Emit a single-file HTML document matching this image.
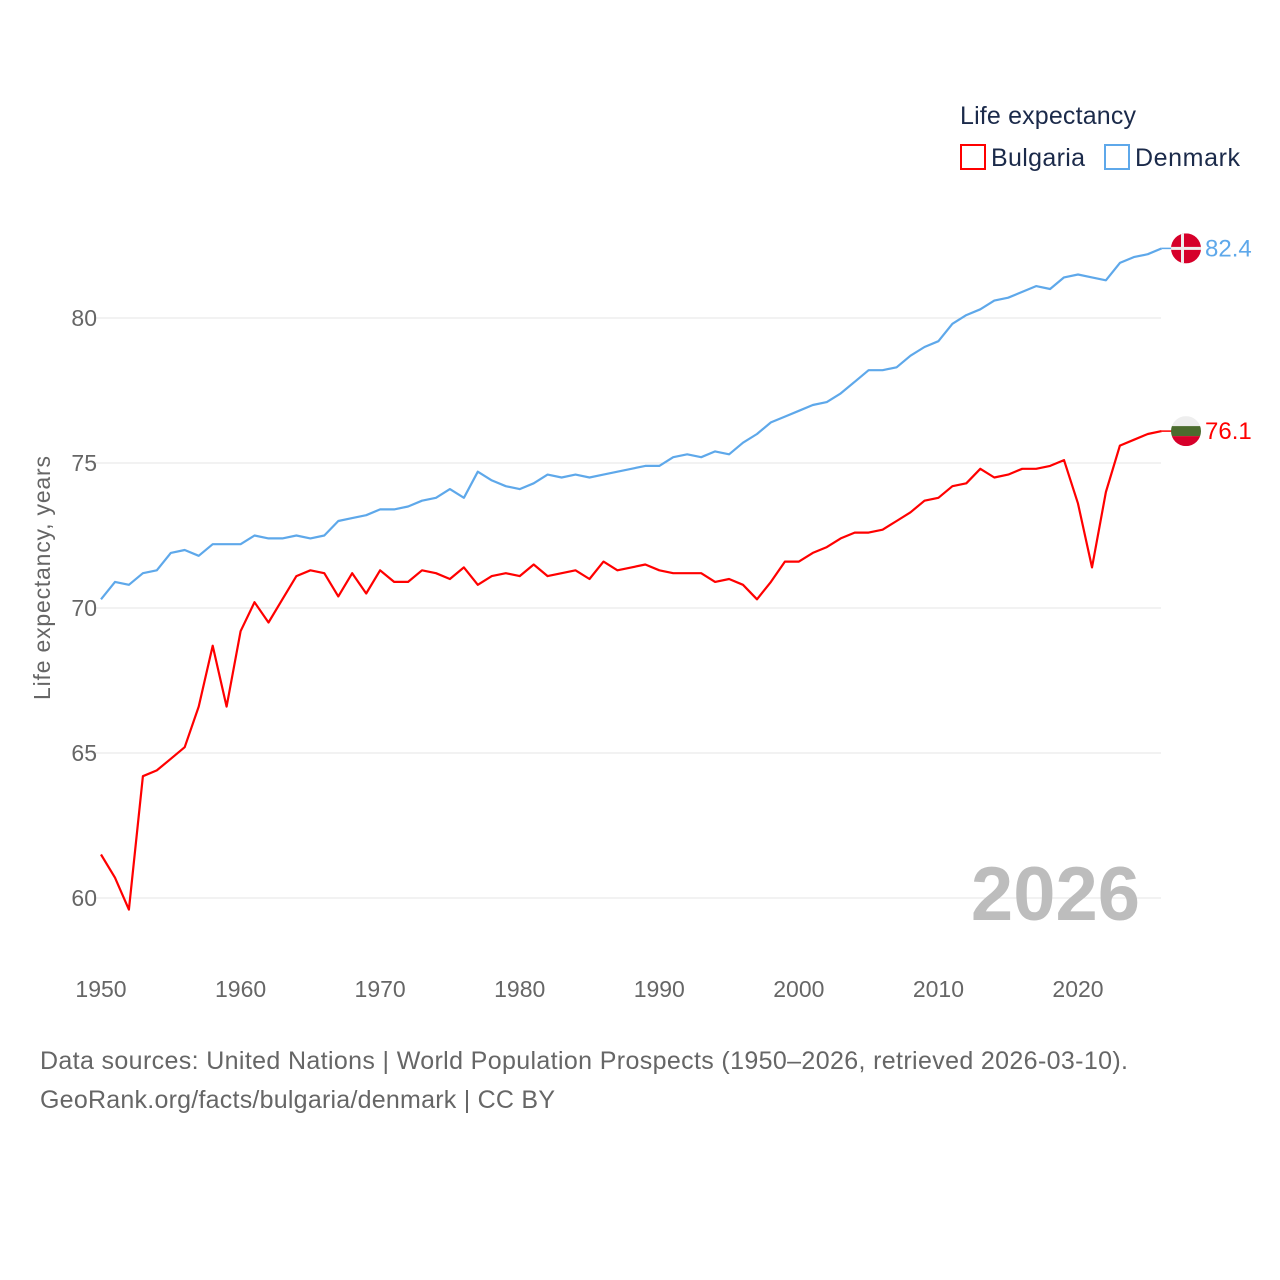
<!DOCTYPE html>
<html><head><meta charset="utf-8"><style>
body{margin:0;background:#fff;}
svg{display:block;font-family:"Liberation Sans",sans-serif;}
</style></head><body>
<svg id="chart" width="1280" height="1280" viewBox="0 0 1280 1280">
<g id="grid"></g>
<g id="yticks"></g>
<g id="xticks"></g>
<text x="50" y="578" transform="rotate(-90 50 578)" text-anchor="middle" font-size="23" textLength="244" fill="#666">Life expectancy, years</text>
<text x="1140" y="920" text-anchor="end" font-size="76" font-weight="bold" fill="#bdbdbd">2026</text>
<g id="series"></g>
<g>
<text x="960" y="124" font-size="25" textLength="176" fill="#1b2a4a">Life expectancy</text>
<rect x="961" y="145" width="24" height="24" fill="none" stroke="#ff0000" stroke-width="2"/>
<text x="991" y="166" font-size="25" textLength="94" fill="#1b2a4a">Bulgaria</text>
<rect x="1105" y="145" width="24" height="24" fill="none" stroke="#5ea8ea" stroke-width="2"/>
<text x="1135" y="166" font-size="25" textLength="105" fill="#1b2a4a">Denmark</text>
</g>
<text x="40" y="1069" font-size="25" textLength="1088" fill="#666">Data sources: United Nations | World Population Prospects (1950–2026, retrieved 2026-03-10).</text>
<text x="40" y="1108" font-size="25" textLength="515" fill="#666">GeoRank.org/facts/bulgaria/denmark | CC BY</text>
</svg>
<script>
const years = [];
for (let y = 1950; y <= 2026; y++) years.push(y);
const bulgaria = [61.5,60.7,59.6,64.2,64.4,64.8,65.2,66.6,68.7,66.6,69.2,70.2,69.5,70.3,71.1,71.3,71.2,70.4,71.2,70.5,71.3,70.9,70.9,71.3,71.2,71.0,71.4,70.8,71.1,71.2,71.1,71.5,71.1,71.2,71.3,71.0,71.6,71.3,71.4,71.5,71.3,71.2,71.2,71.2,70.9,71.0,70.8,70.3,70.9,71.6,71.6,71.9,72.1,72.4,72.6,72.6,72.7,73.0,73.3,73.7,73.8,74.2,74.3,74.8,74.5,74.6,74.8,74.8,74.9,75.1,73.6,71.4,74.0,75.6,75.8,76.0,76.1];
const denmark = [70.3,70.9,70.8,71.2,71.3,71.9,72.0,71.8,72.2,72.2,72.2,72.5,72.4,72.4,72.5,72.4,72.5,73.0,73.1,73.2,73.4,73.4,73.5,73.7,73.8,74.1,73.8,74.7,74.4,74.2,74.1,74.3,74.6,74.5,74.6,74.5,74.6,74.7,74.8,74.9,74.9,75.2,75.3,75.2,75.4,75.3,75.7,76.0,76.4,76.6,76.8,77.0,77.1,77.4,77.8,78.2,78.2,78.3,78.7,79.0,79.2,79.8,80.1,80.3,80.6,80.7,80.9,81.1,81.0,81.4,81.5,81.4,81.3,81.9,82.1,82.2,82.4];
const yTicks = [60,65,70,75,80];
const xTicks = [1950,1960,1970,1980,1990,2000,2010,2020];

const NS = "http://www.w3.org/2000/svg";
const xS = v => 101 + (v - 1950) * (1078 - 101) / 70;
const yS = v => 318 + (80 - v) * 29;
function mk(tag, attrs, parent){const e=document.createElementNS(NS,tag);for(const k in attrs)e.setAttribute(k,attrs[k]);parent.appendChild(e);return e;}
const grid=document.getElementById('grid'), yt=document.getElementById('yticks'), xt=document.getElementById('xticks'), ser=document.getElementById('series');
yTicks.forEach(t=>{
  const l=mk('line',{x1:95,x2:1161,y1:yS(t),y2:yS(t),stroke:'#e6e6e6','stroke-width':1},grid);
  
  
  const tx=mk('text',{x:97,y:yS(t)+8,'text-anchor':'end','font-size':23,fill:'#666'},yt);
  tx.textContent=t;
  
  
});
xTicks.forEach(t=>{
  const tx=mk('text',{x:xS(t),y:997,'text-anchor':'middle','font-size':23,fill:'#666'},xt);
  tx.textContent=t;
  
  
});
function line(vals,color,name){
  const d=vals.map((v,i)=>(i?'L':'M')+xS(years[i]).toFixed(1)+','+yS(v).toFixed(1)).join('');
  const p=mk('path',{d:d,fill:'none',stroke:color,'stroke-width':2.2,'stroke-linejoin':'round'},ser);
  
  
}
line(denmark,'#5ea8ea','denmark');
line(bulgaria,'#ff0000','bulgaria');
function endLabel(vals,color,name,flag){
  const v=vals[vals.length-1], x=xS(years[years.length-1]), y=yS(v);
  const g=mk('g',{},ser);
  
  
  mk('line',{x1:x,x2:1172,y1:y,y2:y,stroke:color,'stroke-width':1.5},g);
  const cid='clip-'+name;
  const cp=mk('clipPath',{id:cid},g);
  mk('circle',{cx:1186,cy:y,r:15},cp);
  const fg=mk('g',{'clip-path':'url(#'+cid+')'},g);
  
  
  flag(fg,y);
  const t=mk('text',{x:1205,y:y+8,'font-size':24,fill:color},g);
  t.textContent=v.toFixed(1);
}
endLabel(denmark,'#5ea8ea','denmark',(g,y)=>{
  mk('rect',{x:1171,y:y-15,width:30,height:30,fill:'#d6002a'},g);
  mk('rect',{x:1171,y:y-1.5,width:30,height:3,fill:'#eee'},g);
  mk('rect',{x:1181,y:y-15,width:3,height:30,fill:'#eee'},g);
});
endLabel(bulgaria,'#ff0000','bulgaria',(g,y)=>{
  mk('rect',{x:1171,y:y-15,width:30,height:10,fill:'#eeeeee'},g);
  mk('rect',{x:1171,y:y-5,width:30,height:10,fill:'#4b6b2e'},g);
  mk('rect',{x:1171,y:y+5,width:30,height:10,fill:'#d6002a'},g);
});
</script>
</body></html>
